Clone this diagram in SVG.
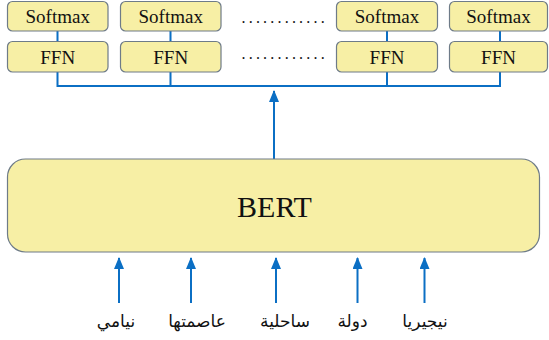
<svg xmlns="http://www.w3.org/2000/svg" width="549" height="340" viewBox="0 0 549 340">
<defs>
<style>
.box{fill:#F7EFA5;stroke:#6E7B88;stroke-width:1.2}
.lbl{font-family:"Liberation Serif","Times New Roman",serif;font-size:19px;fill:#111;text-anchor:middle}
.big{font-family:"Liberation Serif","Times New Roman",serif;font-size:30px;fill:#111;text-anchor:middle}
.ar{font-family:"DejaVu Sans","Noto Sans",sans-serif;font-size:17px;fill:#111;text-anchor:middle}
.dots{font-family:"Liberation Serif",serif;font-size:16px;fill:#111;letter-spacing:3.2px}
.ln{stroke:#0B6FC4;stroke-width:2;fill:none}
</style>
<marker id="ah" markerWidth="12" markerHeight="10" refX="11" refY="5" orient="auto" markerUnits="userSpaceOnUse" viewBox="0 0 12 10">
<path d="M0,0 L12,5 L0,10 Z" fill="#0B6FC4"/>
</marker>
</defs>
<rect width="549" height="340" fill="#fff"/>
<g id="connectors">
<path class="ln" d="M57.5,31 V86 M170.5,31 V86 M387,31 V86 M500,31 V86 M56.5,86 H501"/>
<line class="ln" x1="274" y1="159" x2="274" y2="91" marker-end="url(#ah)"/>
<line class="ln" x1="119" y1="303" x2="119" y2="258" marker-end="url(#ah)"/>
<line class="ln" x1="191" y1="303" x2="191" y2="258" marker-end="url(#ah)"/>
<line class="ln" x1="276" y1="303" x2="276" y2="258" marker-end="url(#ah)"/>
<line class="ln" x1="357.5" y1="303" x2="357.5" y2="258" marker-end="url(#ah)"/>
<line class="ln" x1="424.5" y1="303" x2="424.5" y2="258" marker-end="url(#ah)"/>
</g>
<g id="softmax1"><rect class="box" x="7.5" y="1.5" width="100.5" height="29.5" rx="5"/><text class="lbl" x="57.7" y="23">Softmax</text></g>
<g id="softmax2"><rect class="box" x="120.5" y="1.5" width="100.5" height="29.5" rx="5"/><text class="lbl" x="170.7" y="23">Softmax</text></g>
<g id="softmax3"><rect class="box" x="336.5" y="1.5" width="101" height="29.5" rx="5"/><text class="lbl" x="387" y="23">Softmax</text></g>
<g id="softmax4"><rect class="box" x="449.5" y="1.5" width="98" height="29.5" rx="5"/><text class="lbl" x="498.5" y="23">Softmax</text></g>
<g id="ffn1"><rect class="box" x="7.5" y="41.5" width="100.5" height="30.5" rx="5"/><text class="lbl" x="57.7" y="64">FFN</text></g>
<g id="ffn2"><rect class="box" x="120.5" y="41.5" width="100.5" height="30.5" rx="5"/><text class="lbl" x="170.7" y="64">FFN</text></g>
<g id="ffn3"><rect class="box" x="336.5" y="41.5" width="101" height="30.5" rx="5"/><text class="lbl" x="387" y="64">FFN</text></g>
<g id="ffn4"><rect class="box" x="449.5" y="41.5" width="98" height="30.5" rx="5"/><text class="lbl" x="498.5" y="64">FFN</text></g>
<g id="dots1"><text class="dots" x="241.5" y="23">............</text></g>
<g id="dots2"><text class="dots" x="241.5" y="59">............</text></g>
<g id="bert"><rect class="box" x="7.5" y="159" width="532" height="93" rx="18"/><text class="big" x="274.5" y="217">BERT</text></g>
<g id="w1"><text class="ar" x="116" y="327">نيامي</text></g>
<g id="w2"><text class="ar" x="197" y="327">عاصمتها</text></g>
<g id="w3"><text class="ar" x="285" y="327">ساحلية</text></g>
<g id="w4"><text class="ar" x="352.5" y="327">دولة</text></g>
<g id="w5"><text class="ar" x="425" y="327">نيجيريا</text></g>
</svg>
